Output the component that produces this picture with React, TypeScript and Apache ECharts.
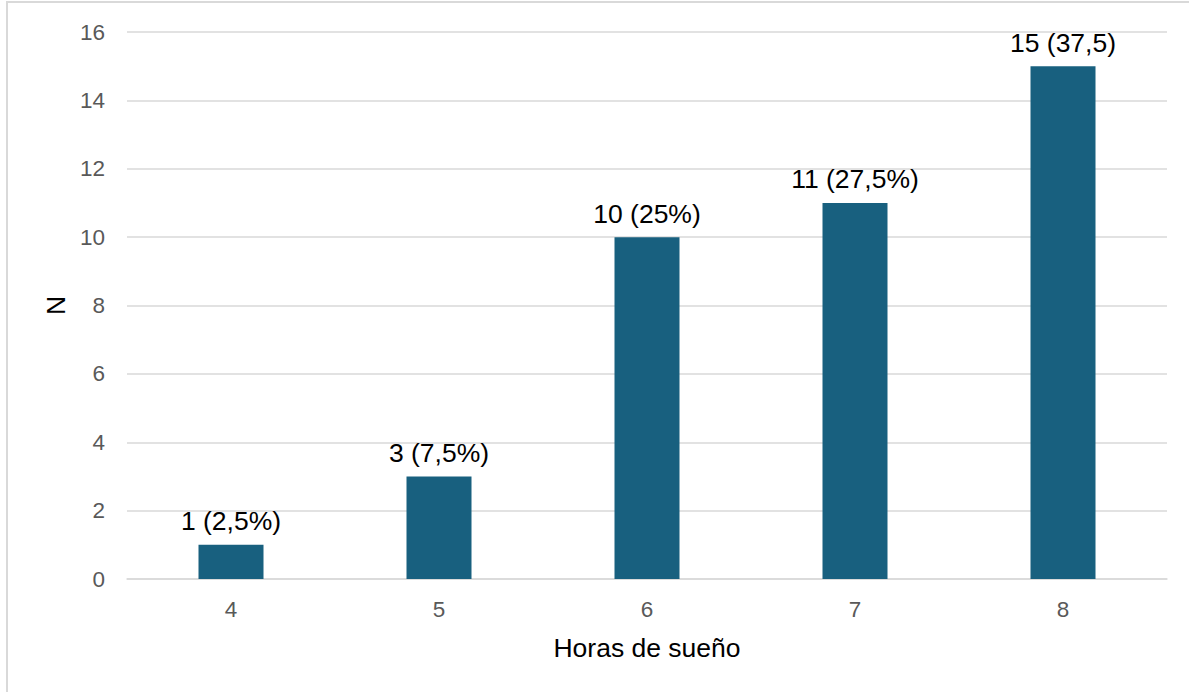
import React, { useEffect, useRef } from "react";
import * as echarts from "echarts";

const categories = ["4", "5", "6", "7", "8"];
const counts = [1, 3, 10, 11, 15];
const labels = ["1 (2,5%)", "3 (7,5%)", "10 (25%)", "11 (27,5%)", "15 (37,5)"];
const yTicks = [0, 2, 4, 6, 8, 10, 12, 14, 16];

export default function App() {
  const ref = useRef<HTMLDivElement>(null);
  useEffect(() => {
    if (!ref.current) return;
    const chart = echarts.init(ref.current, null, { renderer: "svg" });
    chart.setOption({
      animation: false,
      textStyle: { fontFamily: "Liberation Sans, Arial, sans-serif" },
      graphic: [
        {
          type: "rect",
          shape: { x: 7, y: 2, width: 1400, height: 900 },
          style: { fill: "none", stroke: "#d9d9d9", lineWidth: 2 },
          silent: true,
        },
      ],
      grid: { left: 127, right: 22, top: 32, bottom: 113, containLabel: false },
      xAxis: {
        type: "category",
        data: categories,
        name: "Horas de sueño",
        nameLocation: "middle",
        nameGap: 55,
        nameTextStyle: { fontSize: 26.5, color: "#000" },
        axisLine: { show: true, lineStyle: { color: "#d9d9d9", width: 1.5 } },
        axisTick: { show: false },
        axisLabel: { fontSize: 22.5, color: "#595959", margin: 19 },
      },
      yAxis: {
        type: "value",
        min: yTicks[0],
        max: yTicks[yTicks.length - 1],
        interval: 2,
        name: "N",
        nameLocation: "middle",
        nameGap: 58,
        nameTextStyle: { fontSize: 26.5, color: "#000" },
        axisLine: { show: false },
        axisTick: { show: false },
        axisLabel: { fontSize: 22.5, color: "#595959", margin: 22 },
        splitLine: { lineStyle: { color: "#d9d9d9", width: 1.5 } },
      },
      series: [
        {
          type: "bar",
          data: counts,
          barWidth: 65,
          itemStyle: { color: "#18607f" },
          label: {
            show: true,
            position: "top",
            distance: 10,
            fontSize: 26.5,
            color: "#000",
            formatter: (p: any) => labels[p.dataIndex],
          },
        },
      ],
    });
    return () => chart.dispose();
  }, []);
  return (
    <div
      ref={ref}
      style={{ position: "absolute", left: 0, top: 0, width: 1189, height: 692, background: "#fff" }}
    />
  );
}
